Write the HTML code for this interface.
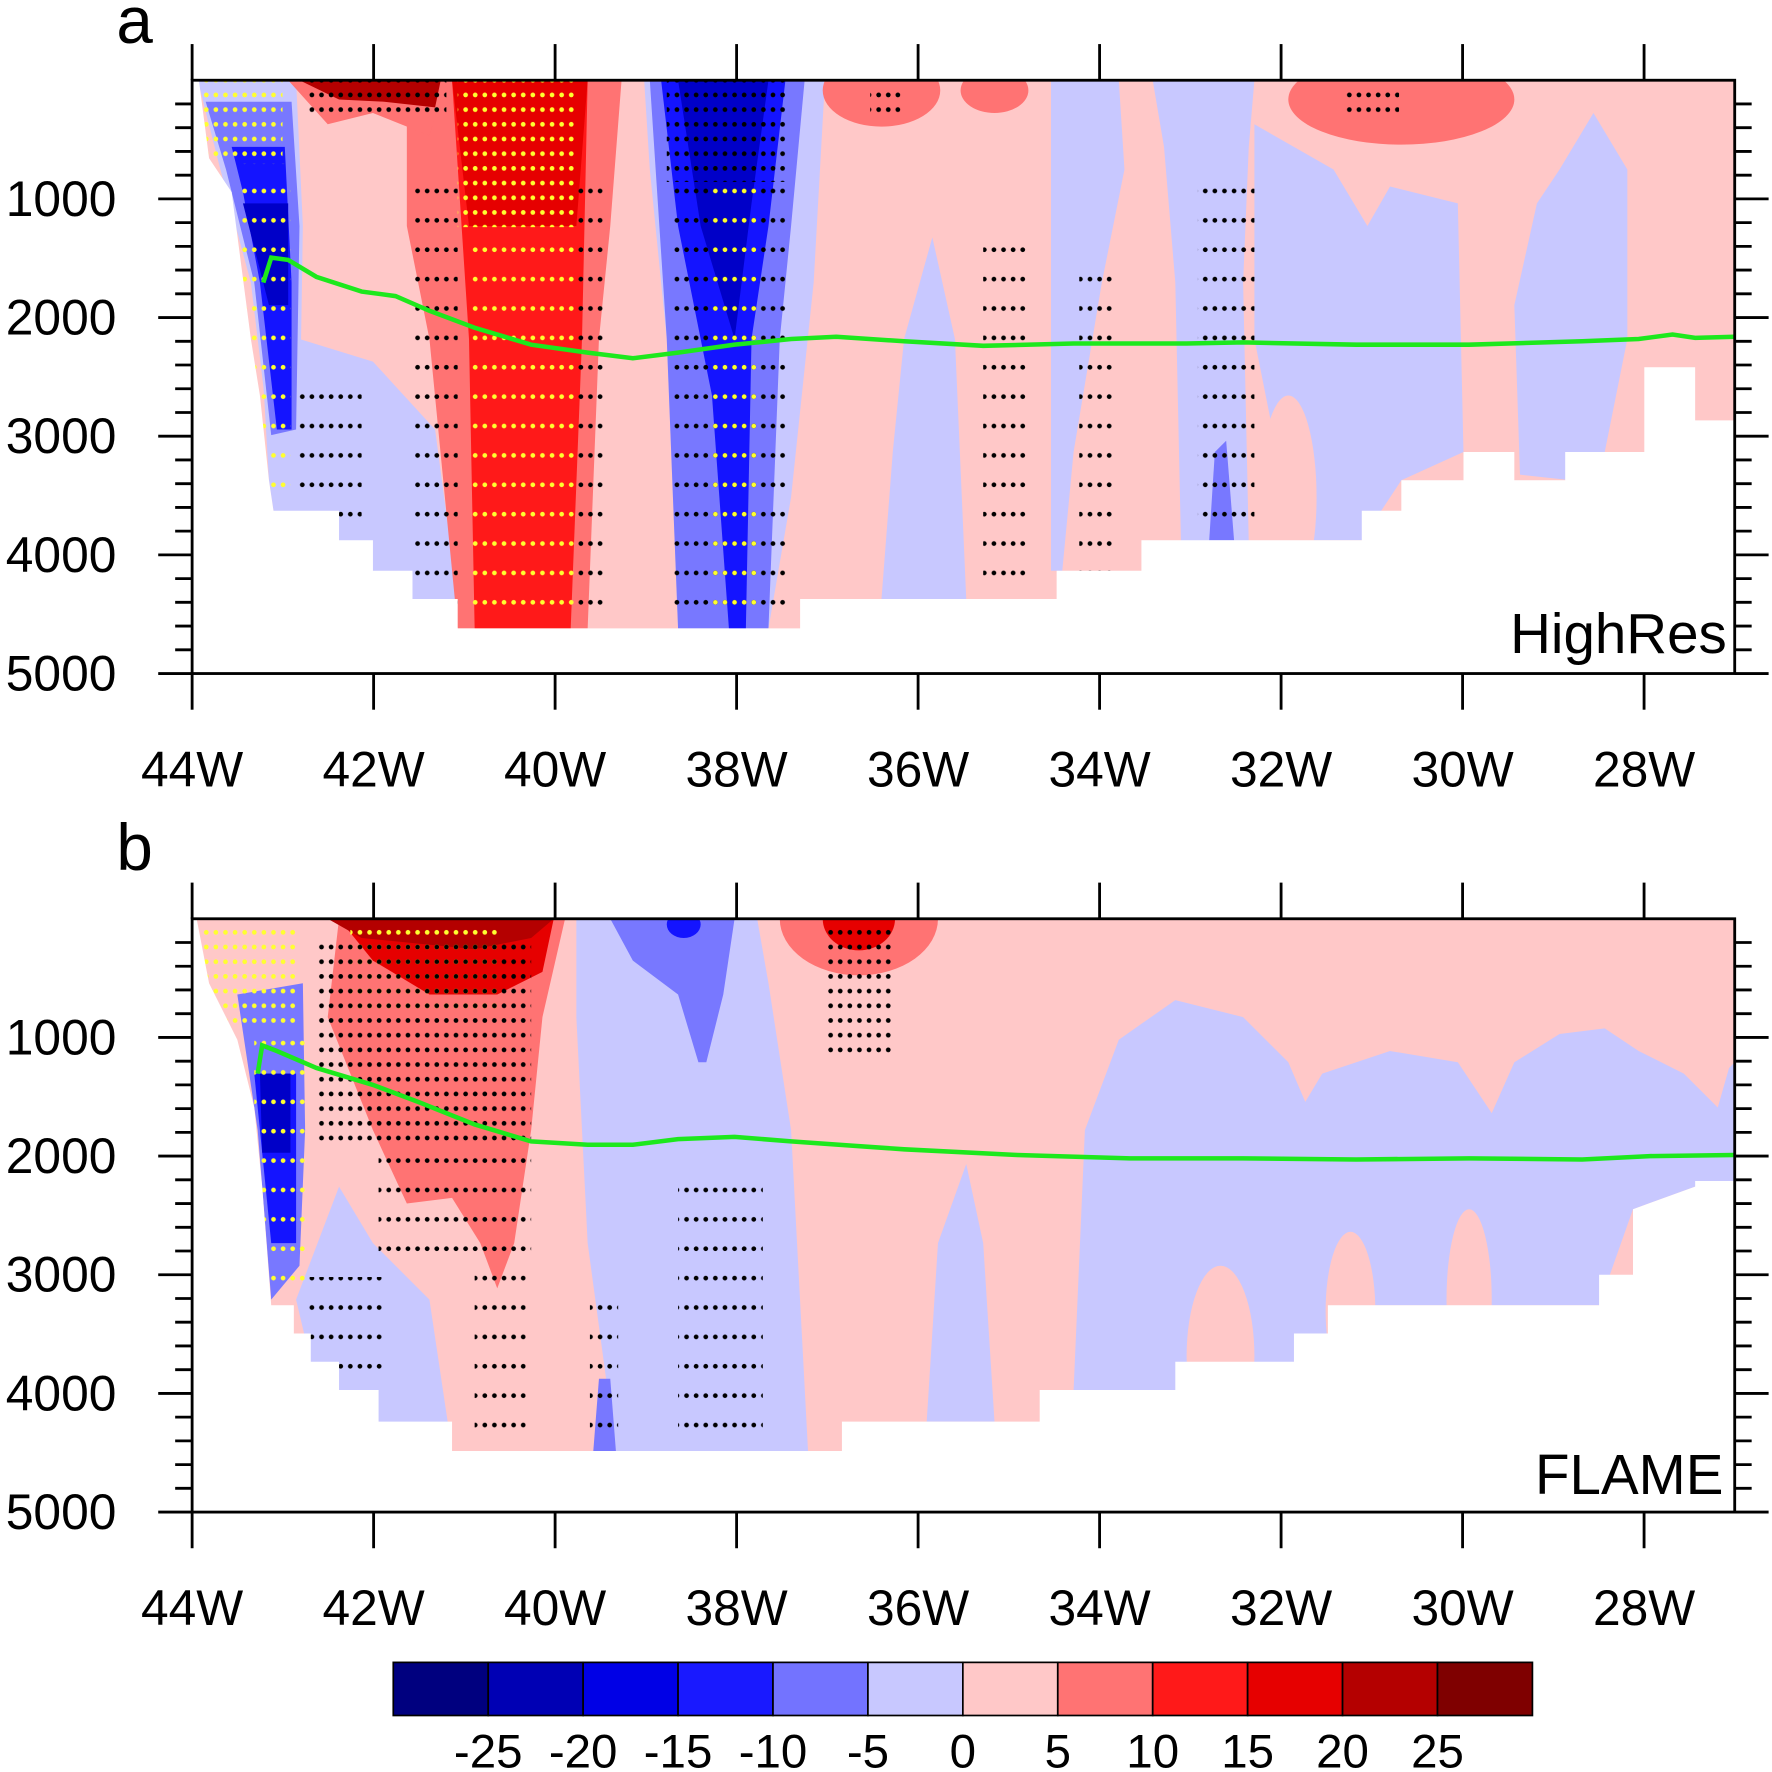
<!DOCTYPE html>
<html><head><meta charset="utf-8"><style>
html,body{margin:0;padding:0;background:#fff}
svg{display:block}
text{font-family:"Liberation Sans",sans-serif;fill:#000}
</style></head><body>
<svg id="s" width="1772" height="1772" viewBox="0 0 1568 1568" xmlns="http://www.w3.org/2000/svg">
<defs>
<pattern id="kd" width="8.5" height="13" patternUnits="userSpaceOnUse"><circle cx="4" cy="6" r="2.1" fill="#000"/></pattern>
<pattern id="ks" width="8.5" height="26" patternUnits="userSpaceOnUse"><circle cx="4" cy="13" r="2.1" fill="#000"/></pattern>
<pattern id="yd" width="8.5" height="13" patternUnits="userSpaceOnUse"><circle cx="4" cy="6" r="2.1" fill="#ffff30"/></pattern>
<pattern id="ys" width="8.5" height="26" patternUnits="userSpaceOnUse"><circle cx="4" cy="13" r="2.1" fill="#ffff30"/></pattern>
<clipPath id="ca"><rect x="170" y="71" width="1365" height="525"/></clipPath>
<clipPath id="cb"><rect x="170" y="813" width="1365" height="525"/></clipPath>
</defs>

<!-- Panel a -->
<g clip-path="url(#ca)">
<rect x="170" y="71" width="1365" height="525" fill="#ffc8c8"/>
<polygon fill="#c8c8ff" points="225,200 265,300 330,320 385,380 405,530 365,530 330,505 300,478 242,452 238,425"/>
<polygon fill="#c8c8ff" points="570,71 730,71 720,250 700,440 680,556 600,556 590,300 575,150"/>
<polygon fill="#7878ff" points="575,71 712,71 700,200 690,300 680,556 600,556 590,300"/>
<polygon fill="#1414ff" points="585,71 695,71 680,200 665,300 660,556 645,556 630,350 600,200"/>
<polygon fill="#0000c8" points="600,71 680,71 665,180 650,300 620,200"/>
<polygon fill="#c8c8ff" points="800,300 825,210 845,300 855,530 780,530 790,400"/>
<polygon fill="#c8c8ff" points="930,71 990,71 995,150 975,250 950,400 940,505 930,505"/>
<polygon fill="#c8c8ff" points="1020,71 1110,71 1105,130 1100,250 1105,480 1045,480 1040,250 1030,130"/>
<polygon fill="#7878ff" points="1075,400 1085,390 1092,478 1070,478"/>
<polygon fill="#c8c8ff" points="1110,110 1180,150 1210,200 1230,165 1290,180 1295,400 1240,425 1205,478 1160,478 1130,400 1110,300"/>
<ellipse cx="1140" cy="440" rx="25" ry="90" fill="#ffc8c8"/>
<polygon fill="#c8c8ff" points="1340,270 1360,180 1380,150 1410,100 1440,150 1440,300 1420,400 1390,425 1345,420"/>
<polygon fill="#c8c8ff" points="175,71 262,71 268,200 265,390 240,400 222,250 195,150"/>
<polygon fill="#7878ff" points="182,90 258,90 265,200 262,380 240,385 225,250 200,150"/>
<polygon fill="#1414ff" points="205,130 252,130 258,250 258,380 245,380 230,250 215,170"/>
<polygon fill="#0000c8" points="215,180 255,180 255,270 238,270"/>
<polygon fill="#ff7373" points="360,71 550,71 540,200 530,300 520,556 405,556 380,300 360,200"/>
<polygon fill="#ff1919" points="400,71 520,71 515,300 505,556 420,556 415,300"/>
<polygon fill="#e60000" points="400,71 520,71 510,200 415,200"/>
<polygon fill="#ff7373" points="255,71 395,71 380,120 330,100 290,110"/>
<polygon fill="#b40000" points="265,71 390,71 385,95 340,90 300,88"/>
<ellipse cx="780" cy="80" rx="52" ry="32" fill="#ff7373"/>
<ellipse cx="880" cy="80" rx="30" ry="20" fill="#ff7373"/>
<ellipse cx="1240" cy="88" rx="100" ry="40" fill="#ff7373"/>
<rect x="180" y="71" width="70" height="70" fill="url(#yd)"/>
<rect x="212" y="145" width="45" height="300" fill="url(#ys)"/>
<rect x="405" y="71" width="105" height="130" fill="url(#yd)"/>
<rect x="415" y="200" width="95" height="356" fill="url(#ys)"/>
<rect x="365" y="150" width="40" height="400" fill="url(#ks)"/>
<rect x="510" y="150" width="25" height="400" fill="url(#ks)"/>
<rect x="270" y="71" width="125" height="30" fill="url(#kd)"/>
<rect x="590" y="71" width="105" height="90" fill="url(#kd)"/>
<rect x="595" y="160" width="100" height="396" fill="url(#ks)"/>
<rect x="630" y="160" width="40" height="396" fill="url(#ys)"/>
<rect x="265" y="330" width="55" height="130" fill="url(#ks)"/>
<rect x="1060" y="150" width="50" height="330" fill="url(#ks)"/>
<rect x="870" y="200" width="40" height="330" fill="url(#ks)"/>
<rect x="955" y="230" width="30" height="280" fill="url(#ks)"/>
<rect x="1188" y="75" width="50" height="30" fill="url(#kd)"/>
<rect x="770" y="75" width="28" height="30" fill="url(#kd)"/>
<polygon fill="#fff" points="170,71 176,71 185,140 205,170 222,300 230,350 238,425 242,452 300,452 300,478 330,478 330,505 365,505 365,530 405,530 405,556 708,556 708,530 935,530 935,505 1010,505 1010,478 1205,478 1205,452 1240,452 1240,425 1295,425 1295,400 1340,400 1340,425 1385,425 1385,400 1455,400 1455,325 1500,325 1500,372 1535,372 1535,596 170,596"/>
<polyline fill="none" stroke="#1de81d" stroke-width="4" points="233,250 240,228 255,230 280,245 320,258 350,262 380,275 420,290 470,305 520,312 560,317 600,312 650,305 700,300 740,298 800,302 870,306 950,304 1050,304 1100,303 1200,305 1300,305 1400,302 1450,300 1480,296 1500,299 1535,298"/>
</g>
<text x="1528" y="578" font-size="50" text-anchor="end">HighRes</text>

<!-- Panel b -->
<g clip-path="url(#cb)">
<rect x="170" y="813" width="1365" height="525" fill="#ffc8c8"/>
<polygon fill="#c8c8ff" points="950,1230 960,1000 990,920 1040,885 1100,900 1140,940 1155,975 1170,950 1230,930 1290,940 1320,985 1340,940 1380,915 1420,910 1450,930 1490,950 1520,980 1530,945 1535,940 1535,1045 1500,1050 1445,1070 1415,1155 1205,1155 1175,1180 1145,1205 1040,1230"/>
<ellipse cx="1080" cy="1200" rx="30" ry="80" fill="#ffc8c8"/>
<ellipse cx="1195" cy="1160" rx="22" ry="70" fill="#ffc8c8"/>
<ellipse cx="1300" cy="1150" rx="20" ry="80" fill="#ffc8c8"/>
<polygon fill="#c8c8ff" points="510,813 670,813 680,870 700,1000 715,1284 545,1284 520,1100 510,900"/>
<polygon fill="#7878ff" points="540,813 650,813 640,880 625,940 618,940 600,880 560,850"/>
<ellipse cx="605" cy="818" rx="15" ry="12" fill="#1414ff"/>
<polygon fill="#c8c8ff" points="262,1150 300,1050 330,1100 380,1150 400,1284 335,1258 300,1230 275,1205"/>
<polygon fill="#c8c8ff" points="830,1100 855,1030 870,1100 880,1258 820,1258"/>
<polygon fill="#7878ff" points="525,1284 530,1220 540,1220 545,1284"/>
<polygon fill="#7878ff" points="210,880 268,870 270,1000 265,1120 240,1150 228,1000"/>
<polygon fill="#1414ff" points="225,950 262,950 262,1100 240,1100"/>
<polygon fill="#0000c8" points="230,950 257,950 257,1020 232,1020"/>
<polygon fill="#ff7373" points="300,813 500,813 480,900 470,1000 455,1100 440,1140 425,1100 400,1060 360,1065 330,1000 290,900"/>
<polygon fill="#e60000" points="300,813 490,813 480,860 440,880 380,880 330,850"/>
<polygon fill="#b40000" points="290,813 490,813 470,830 420,840 320,830"/>
<ellipse cx="760" cy="813" rx="70" ry="50" fill="#ff7373"/>
<ellipse cx="760" cy="813" rx="32" ry="28" fill="#e60000"/>
<rect x="175" y="818" width="90" height="90" fill="url(#yd)"/>
<rect x="225" y="908" width="45" height="240" fill="url(#ys)"/>
<rect x="310" y="815" width="130" height="80" fill="url(#yd)"/>
<rect x="280" y="830" width="190" height="180" fill="url(#kd)"/>
<rect x="335" y="1010" width="135" height="100" fill="url(#ks)"/>
<rect x="420" y="1110" width="45" height="175" fill="url(#ks)"/>
<rect x="730" y="815" width="60" height="120" fill="url(#kd)"/>
<rect x="600" y="1050" width="75" height="235" fill="url(#ks)"/>
<rect x="522" y="1150" width="25" height="135" fill="url(#ks)"/>
<rect x="270" y="1130" width="70" height="100" fill="url(#ks)"/>
<polygon fill="#fff" points="170,813 174,813 185,870 210,920 225,980 232,1050 240,1155 260,1155 260,1180 275,1180 275,1205 300,1205 300,1230 335,1230 335,1258 400,1258 400,1284 715,1284 745,1284 745,1258 920,1258 920,1230 1040,1230 1040,1205 1145,1205 1145,1180 1175,1180 1175,1155 1415,1155 1415,1128 1445,1128 1445,1070 1500,1050 1500,1045 1535,1045 1535,1338 170,1338"/>
<polyline fill="none" stroke="#1de81d" stroke-width="4" points="228,950 232,925 245,930 280,945 330,960 370,975 420,995 470,1010 520,1013 560,1013 600,1008 650,1006 700,1010 800,1017 900,1022 1000,1025 1100,1025 1200,1026 1300,1025 1400,1026 1460,1023 1535,1022"/>
</g>
<text x="1525" y="1322" font-size="50" text-anchor="end">FLAME</text>

<text x="103" y="38" font-size="58">a</text>
<text x="103" y="770" font-size="58">b</text>

<g id="axes"></g>
<g id="cbar"></g>
</svg>
<script>
var NS="http://www.w3.org/2000/svg",ax=document.getElementById("axes"),cb=document.getElementById("cbar");
function el(p,t,a,txt){var e=document.createElementNS(NS,t);for(var k in a)e.setAttribute(k,a[k]);if(txt!=null)e.textContent=txt;p.appendChild(e);return e;}
function line(x1,y1,x2,y2,w){el(ax,"line",{x1:x1,y1:y1,x2:x2,y2:y2,stroke:"#000","stroke-width":w||2.5});}
[71,813].forEach(function(t){
  var b=t+525;
  el(ax,"rect",{x:170,y:t,width:1365,height:525,fill:"none",stroke:"#000","stroke-width":2.5});
  for(var i=0;i<=8;i++){var x=170+i*160.6;line(x,t,x,t-32);line(x,b,x,b+32);
    el(ax,"text",{x:x,y:b+100,"font-size":44,"text-anchor":"middle"},(44-2*i)+"W");}
  for(var d=200;d<=5000;d+=200){var y=t+d*0.105;var maj=d%1000==0;
    line(170,y,maj?140:155,y);line(1535,y,maj?1565:1550,y);}
  for(var k=1;k<=5;k++){el(ax,"text",{x:103,y:t+k*105+15,"font-size":44,"text-anchor":"end"},k*1000);}
});
var cols=["#00007f","#0000b4","#0000e6","#1919ff","#7373ff","#c8c8ff","#ffc8c8","#ff7373","#ff1919","#e60000","#b40000","#7f0000"];
for(var i=0;i<12;i++)el(cb,"rect",{x:348+i*84,y:1471,width:84,height:47,fill:cols[i],stroke:"#000","stroke-width":1.5});
var labs=[-25,-20,-15,-10,-5,0,5,10,15,20,25];
for(var i=0;i<11;i++)el(cb,"text",{x:432+i*84,y:1564,"font-size":42,"text-anchor":"middle"},labs[i]);
</script>
</body></html>
